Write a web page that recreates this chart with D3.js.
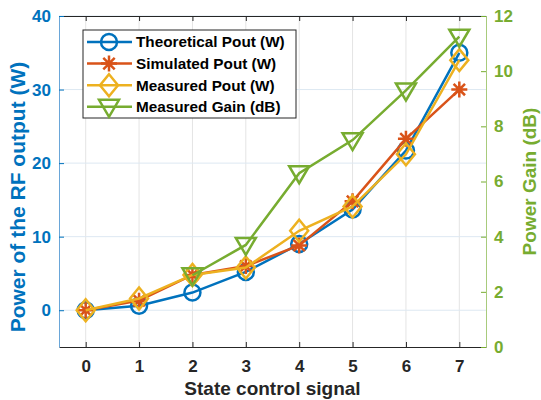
<!DOCTYPE html>
<html>
<head>
<meta charset="utf-8">
<script src="https://cdn.jsdelivr.net/npm/d3@7"></script>
<style>
  body { margin: 0; background: #fff; }
  svg text { font-family: "Liberation Sans", Arial, sans-serif; font-weight: bold; }
</style>
</head>
<body>
<div id="chart"></div>
<script>
// state index 0..7
var states = [0, 1, 2, 3, 4, 5, 6, 7];
var theoPout = [0, 0.6, 2.4, 5.2, 9.0, 13.7, 21.7, 35.0];
var simPout  = [0, 1.3, 4.8, 6.0, 8.8, 14.8, 23.3, 30.0];
var measPout = [0, 1.6, 4.8, 5.8, 10.8, 14.1, 21.2, 34.0];
var gainStates = [2, 3, 4, 5, 6, 7];
var measGain = [2.6, 3.7, 6.3, 7.5, 9.3, 11.25];

var leftTicks = [0, 10, 20, 30, 40];
var rightTicks = [0, 2, 4, 6, 8, 10, 12];
var seriesNames = ["Theoretical Pout (W)", "Simulated Pout (W)", "Measured Pout (W)", "Measured Gain (dB)"];

var blue = "#0072BD", red = "#D95319", yellow = "#EDB120", green = "#77AC30";

function drawChart(placement, w, h) {
    var margins = {top: 16, right: 55, bottom: 53, left: 59};
    var x0 = margins.left, x1 = w - margins.right, y0 = h - margins.bottom, y1 = margins.top;

    var svg = d3.select(placement).append("svg")
        .attr("width", w).attr("height", h);

    var x = d3.scaleLinear().domain([-0.5, 7.5]).range([x0, x1]);
    var yL = d3.scaleLinear().domain([-5, 40]).range([y0, y1]);
    var yR = d3.scaleLinear().domain([0, 12]).range([y0, y1]);

    // grid
    svg.append("g").selectAll("line").data(states).enter().append("line")
        .attr("x1", d => x(d)).attr("x2", d => x(d))
        .attr("y1", y0).attr("y2", y1)
        .attr("stroke", "#e4e4e4").attr("stroke-width", 1);
    svg.append("g").selectAll("line").data(leftTicks).enter().append("line")
        .attr("x1", x0).attr("x2", x1)
        .attr("y1", d => yL(d)).attr("y2", d => yL(d))
        .attr("stroke", "#dde8f2").attr("stroke-width", 1);

    // axes
    var xAxis = svg.append("g").attr("transform", "translate(0," + y0 + ")")
        .call(d3.axisBottom(x).tickValues(states).tickSizeInner(-5).tickSizeOuter(0).tickPadding(13));
    xAxis.select(".domain").attr("stroke", "#262626");
    xAxis.selectAll(".tick line").attr("stroke", "#262626");
    xAxis.selectAll("text").attr("fill", "#262626").style("font-size", "17px");

    var xTop = svg.append("g").attr("transform", "translate(0," + y1 + ")")
        .call(d3.axisTop(x).tickValues(states).tickSizeInner(-5).tickSizeOuter(0).tickFormat(""));
    xTop.select(".domain").attr("stroke", "#262626");
    xTop.selectAll(".tick line").attr("stroke", "#262626");

    var lAxis = svg.append("g").attr("transform", "translate(" + x0 + ",0)")
        .call(d3.axisLeft(yL).tickValues(leftTicks).tickSizeInner(-5).tickSizeOuter(0).tickPadding(8));
    lAxis.select(".domain").attr("stroke", "#6aa6d8");
    lAxis.selectAll(".tick line").attr("stroke", blue);
    lAxis.selectAll("text").attr("fill", blue).style("font-size", "17px");

    var rAxis = svg.append("g").attr("transform", "translate(" + x1 + ",0)")
        .call(d3.axisRight(yR).tickValues(rightTicks).tickSizeInner(-5).tickSizeOuter(0).tickPadding(8));
    rAxis.select(".domain").attr("stroke", "#a8cb7c");
    rAxis.selectAll(".tick line").attr("stroke", green);
    rAxis.selectAll("text").attr("fill", green).style("font-size", "17px");

    // axis labels
    svg.append("text").attr("x", (x0 + x1) / 2).attr("y", 395)
        .attr("text-anchor", "middle").attr("fill", "#262626").style("font-size", "19px")
        .text("State control signal");
    svg.append("text").attr("transform", "translate(25,197) rotate(-90)")
        .attr("text-anchor", "middle").attr("fill", blue).style("font-size", "21px")
        .text("Power of the RF output (W)");
    svg.append("text").attr("transform", "translate(536," + ((y0 + y1) / 2) + ") rotate(-90)")
        .attr("text-anchor", "middle").attr("fill", green).style("font-size", "19px")
        .text("Power Gain (dB)");

    // marker shapes
    function marker(g, kind, color) {
        if (kind == "o") {
            g.append("circle").attr("r", 8).attr("fill", "none").attr("stroke", color).attr("stroke-width", 2.5);
        } else if (kind == "*") {
            var s = 8, d = 5.7;
            g.append("path").attr("d", "M" + (-s) + ",0L" + s + ",0M0," + (-s) + "L0," + s +
                "M" + (-d) + "," + (-d) + "L" + d + "," + d + "M" + (-d) + "," + d + "L" + d + "," + (-d))
                .attr("stroke", color).attr("stroke-width", 2.5).attr("fill", "none");
        } else if (kind == "d") {
            g.append("path").attr("d", "M0,-11L9,0L0,11L-9,0Z")
                .attr("fill", "none").attr("stroke", color).attr("stroke-width", 2.5).attr("stroke-linejoin", "miter");
        } else if (kind == "v") {
            g.append("path").attr("d", "M-10,-7L10,-7L0,10Z")
                .attr("fill", "none").attr("stroke", color).attr("stroke-width", 2.5);
        }
    }

    var series = [
        {xs: states, ys: theoPout, y: yL, color: blue, kind: "o"},
        {xs: states, ys: simPout, y: yL, color: red, kind: "*"},
        {xs: states, ys: measPout, y: yL, color: yellow, kind: "d"},
        {xs: gainStates, ys: measGain, y: yR, color: green, kind: "v"}
    ];

    series.forEach(function(s) {
        var pts = s.xs.map(function(v, i) { return [v, s.ys[i]]; });
        var line = d3.line().x(d => x(d[0])).y(d => s.y(d[1]));
        svg.append("path").datum(pts).attr("d", line)
            .attr("fill", "none").attr("stroke", s.color).attr("stroke-width", 2.5);
        svg.append("g").selectAll("g").data(pts).enter().append("g")
            .attr("transform", d => "translate(" + x(d[0]) + "," + s.y(d[1]) + ")")
            .each(function() { marker(d3.select(this), s.kind, s.color); });
    });

    // legend
    var legend = svg.append("g").attr("transform", "translate(83,30)");
    legend.append("rect").attr("width", 213).attr("height", 88)
        .attr("fill", "#fff").attr("stroke", "#262626").attr("stroke-width", 1);
    var item = legend.selectAll(".legend").data(series).enter().append("g")
        .attr("class", "legend")
        .attr("transform", function(d, i) { return "translate(0," + (12 + i * 21.6) + ")"; });
    item.append("line").attr("x1", 4).attr("x2", 49)
        .attr("stroke", d => d.color).attr("stroke-width", 2.5);
    item.append("g").attr("transform", "translate(26,0)")
        .each(function(d) { marker(d3.select(this), d.kind, d.color); });
    item.append("text").attr("x", 53).attr("dy", "0.35em")
        .attr("fill", "#000").style("font-size", "15.3px")
        .text(function(d, i) { return seriesNames[i]; });
}

drawChart("#chart", 541, 400);
</script>
</body>
</html>
